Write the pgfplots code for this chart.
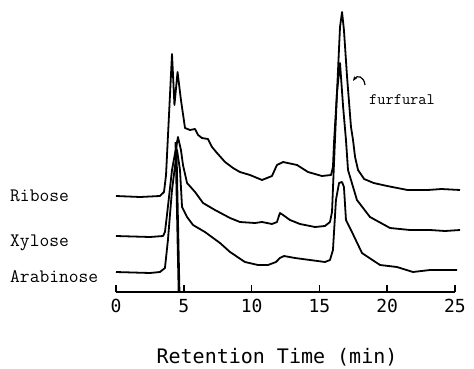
\documentclass[border=0pt]{standalone}
\usepackage{fontspec}
\usepackage{pgfplots}
\pgfplotsset{compat=1.18}
\usetikzlibrary{arrows.meta}
\newfontfamily\tickfont{DejaVu Sans Mono}
\pgfplotsset{curve/.style={black, no markers, line width=1.8pt, line join=round}}
\begin{document}
\begin{tikzpicture}
\useasboundingbox (-116pt,-76pt) rectangle (358pt,292pt);
\begin{axis}[
  scale only axis,
  width=339pt, height=287pt,
  xmin=0, xmax=25, ymin=0, ymax=287,
  axis x line=bottom, axis y line=none,
  axis line style={-, line width=1.5pt},
  xtick={0,5,10,15,20,25},
  tick align=inside,
  major tick length=7pt,
  tick style={line width=1.5pt, black},
  xticklabel style={font=\tickfont\fontsize{18}{18}\selectfont, anchor=north, yshift=-4pt},
  /pgf/number format/assume math mode=true,
  clip=false,
]
% Ribose
\addplot[curve] coordinates {
(0,96)(1.77,95)(3.24,96)(3.54,100)(3.69,117)(4.13,238)(4.31,187)(4.54,220)(4.79,192)(5.09,164)
(5.46,162)(5.83,163)(6.05,157)(6.34,154)(6.78,153)(7.08,145)(7.45,139)(8.04,130)(8.63,124)
(9.14,120)(9.88,117)(10.77,112)(11.50,116)(11.87,127)(12.32,130)(13.35,127)(14.16,120)
(15.19,116)(15.86,117)(16.0,125)(16.08,150)(16.30,200)(16.52,265)(16.67,280)(16.81,262)
(17.04,215)(17.33,165)(17.48,152)(17.63,135)(17.85,122)(18.3,113)(19.0,109)(20.0,106)
(21.5,102)(23.0,102)(24.0,103)(25.37,102)
};
% Xylose
\addplot[curve] coordinates {
(0,56)(2.51,55)(3.47,56)(3.61,60)(3.76,77)(4.13,122)(4.57,155)(4.79,142)(4.94,127)(5.24,109)
(5.83,100)(6.42,89)(7.30,82)(8.41,74)(9.14,70)(10.25,69)(10.77,70)(11.50,68)(11.87,70)
(12.09,79)(12.32,77)(12.83,72)(13.57,68)(14.68,65)(15.41,66)(15.78,70)(15.93,80)(16.08,130)
(16.30,200)(16.52,229)(16.75,185)(16.96,152)(17.11,122)(17.77,92)(18.73,75)(20.21,64)
(21.68,62)(23.16,62)(24.26,61)(25.37,62)
};
% Arabinose
\addplot[curve] coordinates {
(0,20)(2.51,19)(3.24,20)(3.61,24)(3.83,52)(4.13,102)(4.50,142)(4.72,122)(4.87,85)(5.24,75)
(5.68,67)(6.56,60)(7.67,49)(8.41,40)(9.51,30)(10.47,27)(11.21,27)(11.80,30)(12.09,34)
(12.39,36)(13.20,34)(14.31,32)(15.41,30)(15.78,32)(16.00,42)(16.22,92)(16.45,109)(16.67,110)
(16.81,105)(16.96,72)(17.33,62)(18.14,39)(19.47,27)(20.72,25)(21.9,20)(23.16,22)(25.15,22)
};
% vertical marker line
\addplot[curve, line width=2.6pt] coordinates {(4.42,150)(4.65,0)};
\end{axis}
\node[anchor=base west, font=\ttfamily\fontsize{19}{19}\selectfont, inner sep=0pt] at (-106pt,91pt) {Ribose};
\node[anchor=base west, font=\ttfamily\fontsize{19}{19}\selectfont, inner sep=0pt] at (-106pt,46pt) {Xylose};
\node[anchor=base west, font=\ttfamily\fontsize{19}{19}\selectfont, inner sep=0pt] at (-106pt,10pt) {Arabinose};
\node[font=\ttfamily\fontsize{16}{16}\selectfont, inner sep=0pt] at (286pt,192pt) {furfural};
\draw[line width=1.2pt, -{Stealth[length=5pt]}] (249pt,207pt) .. controls (248pt,216pt) and (241pt,217pt) .. (237pt,211pt);
\node[anchor=base, font=\tickfont\fontsize{20}{20}\selectfont, inner sep=0pt] at (161pt,-71pt) {Retention Time (min)};
\end{tikzpicture}
\end{document}
